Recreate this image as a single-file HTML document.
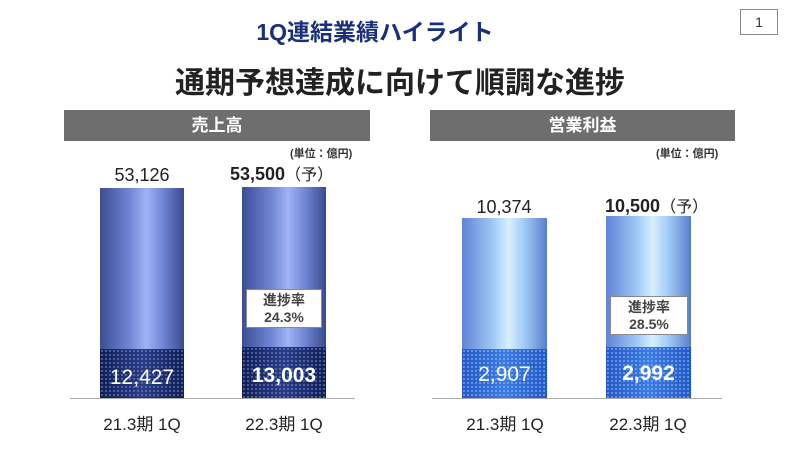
<!DOCTYPE html>
<html><head><meta charset="utf-8"><style>
body{margin:0;width:800px;height:450px;background:#fff;position:relative;overflow:hidden;font-family:"Liberation Sans","Noto Sans CJK JP",sans-serif}
.a{position:absolute}
.hdr{background:#6e6e6e;color:#fff;font-weight:bold;font-size:17px;text-align:center;line-height:31px;height:31px;top:110px}
.bar{background:linear-gradient(90deg,#3c4e94 0%,#6f86d4 35%,#9fb3f4 55%,#6f86d4 75%,#3a4a8e 100%)}
.dark{background-color:#1a2a6a;background-image:radial-gradient(circle,rgba(140,160,220,.55) 0.8px,transparent 1.2px),linear-gradient(90deg,#0f1e55,#2a3c88 50%,#0f1e55);background-size:4px 4px,100% 100%;color:#fff;text-align:center;font-size:21px}
.bar2{background:linear-gradient(90deg,#5f84d4 0%,#9cc6f4 35%,#d6f0ff 55%,#9cc6f4 75%,#5a7ec8 100%)}
.dark2{background-color:#2e66d4;background-image:radial-gradient(circle,rgba(160,200,255,.6) 0.8px,transparent 1.2px),linear-gradient(90deg,#2458c4,#3c7ce4 50%,#2458c4);background-size:4px 4px,100% 100%;color:#fff;text-align:center;font-size:21px}
.box{background:#fff;border:1px solid #888;text-align:center;font-size:14px;font-weight:bold;color:#444;line-height:17px;padding-top:2px;box-sizing:border-box}
.val{font-size:18px;text-align:center;color:#222}
.cat{font-size:17px;text-align:center;color:#222;top:410px}
.base{height:1px;background:#aaa;top:398px}
</style></head><body>
<div class="a" style="left:-25px;width:800px;top:13px;text-align:center;color:#1a2f7a;font-weight:bold;font-size:23px">1Q連結業績ハイライト</div>
<div class="a" style="left:740px;top:9px;width:36px;height:24px;border:1px solid #888;text-align:center;line-height:24px;font-size:14px;color:#333">1</div>
<div class="a" style="left:0;width:800px;top:58px;text-align:center;color:#222;font-weight:bold;font-size:30px">通期予想達成に向けて順調な進捗</div>

<div class="a hdr" style="left:64px;width:306px">売上高</div>
<div class="a" style="left:290px;top:145px;font-size:11px;color:#333;font-weight:bold">(単位：億円)</div>
<div class="a val" style="left:92px;width:100px;top:165px">53,126</div>
<div class="a val" style="left:230px;width:150px;top:161px;text-align:left;font-weight:bold">53,500<span style="font-weight:normal;font-size:16px">（予）</span></div>
<div class="a bar" style="left:100px;top:188px;width:84px;height:161px"></div>
<div class="a dark" style="left:100px;top:349px;width:84px;height:49px;line-height:58px">12,427</div>
<div class="a bar" style="left:242px;top:187px;width:84px;height:160px"></div>
<div class="a dark" style="left:242px;top:347px;width:84px;height:51px;line-height:58px;font-weight:bold">13,003</div>
<div class="a box" style="left:246px;top:289px;width:76px;height:39px">進捗率<br>24.3%</div>
<div class="a base" style="left:70px;width:285px"></div>
<div class="a cat" style="left:92px;width:100px">21.3期 1Q</div>
<div class="a cat" style="left:234px;width:100px">22.3期 1Q</div>

<div class="a hdr" style="left:430px;width:305px">営業利益</div>
<div class="a" style="left:656px;top:145px;font-size:11px;color:#333;font-weight:bold">(単位：億円)</div>
<div class="a val" style="left:454px;width:100px;top:197px">10,374</div>
<div class="a val" style="left:605px;width:150px;top:193px;text-align:left;font-weight:bold">10,500<span style="font-weight:normal;font-size:16px">（予）</span></div>
<div class="a bar2" style="left:462px;top:218px;width:85px;height:131px"></div>
<div class="a dark2" style="left:462px;top:349px;width:85px;height:49px;line-height:52px">2,907</div>
<div class="a bar2" style="left:606px;top:216px;width:85px;height:131px"></div>
<div class="a dark2" style="left:606px;top:347px;width:85px;height:51px;line-height:54px;font-weight:bold">2,992</div>
<div class="a box" style="left:610px;top:296px;width:78px;height:39px">進捗率<br>28.5%</div>
<div class="a base" style="left:432px;width:290px"></div>
<div class="a cat" style="left:455px;width:100px">21.3期 1Q</div>
<div class="a cat" style="left:598px;width:100px">22.3期 1Q</div>
</body></html>
